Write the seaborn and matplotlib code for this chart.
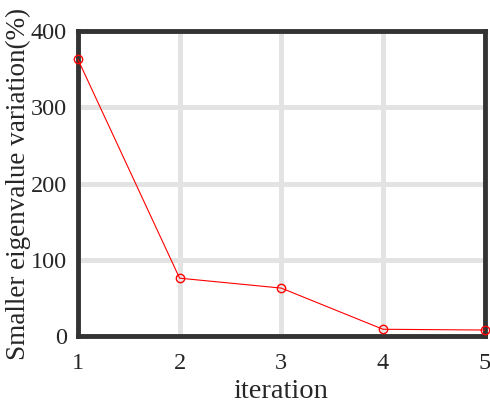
import pandas as pd
import seaborn as sns
import matplotlib.pyplot as plt

# values
iterations = [1, 2, 3, 4, 5]
variation = [363, 76, 63, 9, 8]

df = pd.DataFrame({'iteration': iterations, 'variation': variation})

sns.set_style("whitegrid")
plt.rcParams['font.family'] = ['Liberation Serif', 'DejaVu Serif']

fig = plt.figure(figsize=(4.9, 4.04), dpi=100)
ax = fig.add_axes([0.159, 0.168, 0.830, 0.755])

sns.lineplot(data=df, x='iteration', y='variation', ax=ax, color='red',
             linewidth=0.8, marker='o', markersize=6, markerfacecolor='none',
             markeredgecolor='red', markeredgewidth=1.0, clip_on=False, zorder=5)

ax.set_xlim(1, 5)
ax.set_ylim(0, 400)
ax.set_xticks([1, 2, 3, 4, 5])
ax.set_yticks([0, 100, 200, 300, 400])
ax.grid(True, color='#e3e3e3', linewidth=3.5)
ax.set_axisbelow(True)
for s in ax.spines.values():
    s.set_color('#333333')
    s.set_linewidth(3.5)
ax.tick_params(axis='both', direction='in', length=6, width=3.5, color='#333333',
               labelsize=17.5, labelcolor='#262626')
ax.tick_params(axis='x', pad=12)
ax.tick_params(axis='y', pad=8)
ax.set_xlabel('iteration', fontsize=20.5, color='#262626', labelpad=4)
ax.set_ylabel('Smaller eigenvalue variation(%)', fontsize=19.5, color='#262626', labelpad=0)

fig.savefig('out.png', dpi=100)
